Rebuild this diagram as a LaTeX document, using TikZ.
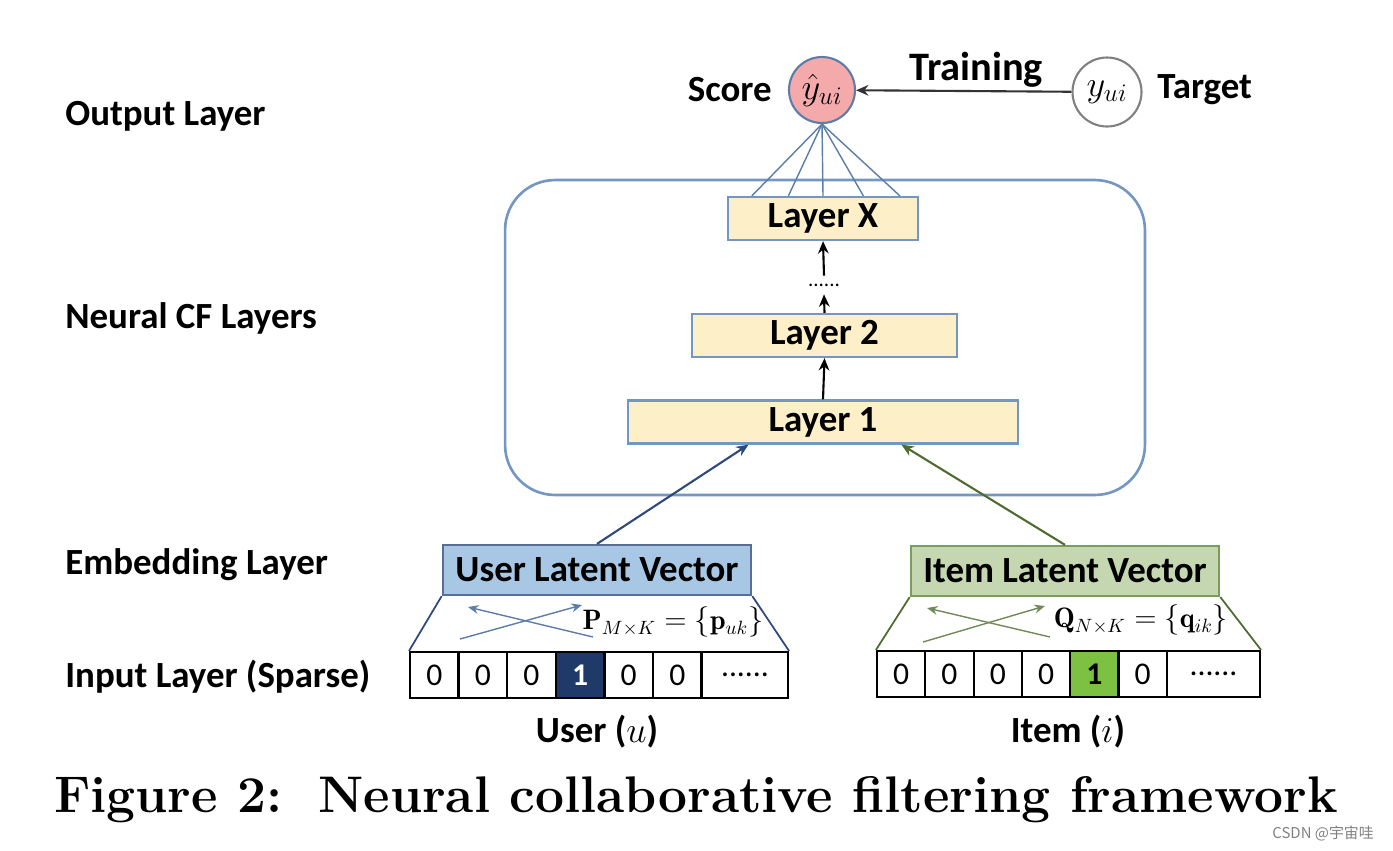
\documentclass[tikz,border=0pt]{standalone}
\usepackage{fontspec}
\setsansfont{Carlito}
\newfontfamily\cjk{Noto Sans CJK SC}
\usetikzlibrary{arrows.meta,calc}

\definecolor{scorepink}{HTML}{F4AAAA}
\definecolor{edgeblue}{HTML}{5B7DA8}
\definecolor{boxblue}{HTML}{7397C2}
\definecolor{layerfill}{HTML}{FDF0C8}
\definecolor{userfill}{HTML}{A8C7E4}
\definecolor{userdark}{HTML}{2E4A7D}
\definecolor{itemfill}{HTML}{C4D7B1}
\definecolor{itemedge}{HTML}{7A9C5C}
\definecolor{itemdark}{HTML}{4F6B2F}
\definecolor{onenavy}{HTML}{1F3A68}
\definecolor{onegreen}{HTML}{7CC142}

\begin{document}
\begin{tikzpicture}[x=0.02cm, y=-0.02cm,
  lbl/.style={font=\sffamily\bfseries\fontsize{21}{25}\selectfont},
  layer/.style={draw=boxblue, line width=1.3pt, fill=layerfill, minimum height=0.86cm, inner sep=0pt, font=\sffamily\bfseries\fontsize{21}{25}\selectfont},
  latent/.style={line width=1.3pt, minimum width=6.17cm, minimum height=1cm, inner sep=0pt, font=\sffamily\bfseries\fontsize{21}{25}\selectfont},
  cell/.style={draw=black, line width=1.2pt, fill=white, minimum width=0.97cm, minimum height=0.92cm, inner sep=0pt, font=\sffamily\fontsize{18}{20}\selectfont},
  ucell/.style={cell, fill=onenavy, text=white, font=\sffamily\bfseries\fontsize{18}{20}\selectfont},
  icell/.style={cell, fill=onegreen, font=\sffamily\bfseries\fontsize{18}{20}\selectfont},
  arr/.style={-{Stealth[length=7pt,width=6pt]}, line width=1.2pt}]
  \useasboundingbox (0,0) rectangle (1393,850);

  % layer names on the left
  \node[lbl, anchor=west, inner sep=0pt] (outl) at (65,116) {Output Layer};
  \node[lbl, anchor=west, inner sep=0pt] (cfl) at (65,318) {Neural CF Layers};
  \node[lbl, anchor=west, inner sep=0pt] (embl) at (65,565) {Embedding Layer};
  \node[lbl, anchor=west, inner sep=0pt] (inl) at (65,677) {Input Layer (Sparse)};

  % output
  \node[circle, draw=edgeblue, fill=scorepink, line width=1.2pt, minimum size=1.32cm, inner sep=0pt, font=\fontsize{22}{24}\selectfont] (score) at (822,90) {$\hat{y}_{ui}$};
  \node[circle, draw=gray, fill=white, line width=1.2pt, minimum size=1.38cm, inner sep=0pt, font=\fontsize{22}{24}\selectfont] (target) at (1107,92) {$y_{ui}$};
  \node[lbl, anchor=east, inner sep=0pt] (scorel) at (772,90) {Score};
  \node[lbl, anchor=west, inner sep=0pt] (targetl) at (1157,90) {Target};
  \node[lbl, font=\sffamily\bfseries\fontsize{23}{26}\selectfont] (train) at (976,70) {Training};
  \draw[arr, black!80] (target) -- (score);

  % neural CF layers
  \node[draw=boxblue, line width=1.5pt, rounded corners=1cm, minimum width=12.8cm, minimum height=6.3cm] (cfbox) at (825,337.5) {};
  \node[layer, minimum width=3.8cm] (lx) at (823,218.5) {Layer X};
  \node[layer, minimum width=5.3cm] (l2) at (824.5,335.5) {Layer 2};
  \node[layer, minimum width=7.8cm] (l1) at (823,422) {Layer 1};
  \node[inner sep=0pt, minimum height=0.36cm, font=\sffamily\fontsize{12}{14}\selectfont] (dots) at (824,285) {......};
  \draw[arr] (l1.north) -- (l2.south);
  \draw[arr] (l2.north) -- (dots.south);
  \draw[arr] (dots.north) -- (lx.south);
  \foreach \f in {0.13,0.32,0.5,0.71,0.9}
    \draw[edgeblue, line width=0.8pt] (score.south) -- ($(lx.north west)!\f!(lx.north east)$);

  % embedding
  \node[latent, draw=userdark!80, fill=userfill] (user) at (597,570) {User Latent Vector};
  \node[latent, draw=itemedge, fill=itemfill] (item) at (1065,571) {Item Latent Vector};
  \draw[arr, userdark] (user.north) -- ($(l1.south west)!0.31!(l1.south east)$);
  \draw[arr, itemdark] (item.north) -- ($(l1.south west)!0.7!(l1.south east)$);

  % sparse input
  \foreach \v/\s [count=\k] in {0/cell,0/cell,0/cell,1/ucell,0/cell,0/cell}
    \node[\s] (u\k) at ({434.3+48.6*(\k-1)},675) {\v};
  \node[cell, minimum width=1.72cm] (u7) at (745,675) {......};
  \foreach \v/\s [count=\k] in {0/cell,0/cell,0/cell,0/cell,1/icell,0/cell}
    \node[\s] (i\k) at ({901.2+48.3*(\k-1)},674) {\v};
  \node[cell, minimum width=1.86cm] (i7) at (1213.5,674) {......};
  \node[lbl] (userin) at (597,732) {User ($u$)};
  \node[lbl] (itemin) at (1068,732) {Item ($i$)};

  % lookup
  \draw[userdark, line width=1pt] (user.south west) -- (u1.north west);
  \draw[userdark, line width=1pt] (user.south east) -- (u7.north east);
  \draw[itemdark, line width=1pt] (item.south west) -- (i1.north west);
  \draw[itemdark, line width=1pt] (item.south east) -- (i7.north east);
  \coordinate (ua) at (460,639);
  \coordinate (ub) at (582,605);
  \coordinate (uc) at (593,637);
  \coordinate (ud) at (468,607);
  \coordinate (ia) at (923,642);
  \coordinate (ib) at (1045,606);
  \coordinate (ic) at (1050,637);
  \coordinate (id) at (927,608);
  \draw[-{Stealth[length=6pt,width=5pt]}, edgeblue, line width=0.8pt] (ua) -- (ub);
  \draw[-{Stealth[length=6pt,width=5pt]}, edgeblue, line width=0.8pt] (uc) -- (ud);
  \draw[-{Stealth[length=6pt,width=5pt]}, itemdark!80, line width=0.8pt] (ia) -- (ib);
  \draw[-{Stealth[length=6pt,width=5pt]}, itemdark!80, line width=0.8pt] (ic) -- (id);
  \node[font=\fontsize{16}{18}\selectfont] (pmat) at (673,622) {$\mathbf{P}_{M\times K}=\{\mathbf{p}_{uk}\}$};
  \node[font=\fontsize{16}{18}\selectfont] (qmat) at (1141,620) {$\mathbf{Q}_{N\times K}=\{\mathbf{q}_{ik}\}$};

  % caption and mark
  \node[font=\rmfamily\bfseries\fontsize{29.3}{33}\selectfont] (caption) at (696,800) {Figure 2:\hspace{0.7em}Neural collaborative filtering framework};
  \node[anchor=east, text=gray, font=\cjk\fontsize{8.5}{10}\selectfont] (mark) at (1380,833) {CSDN @宇宙哇};
\end{tikzpicture}
\end{document}
